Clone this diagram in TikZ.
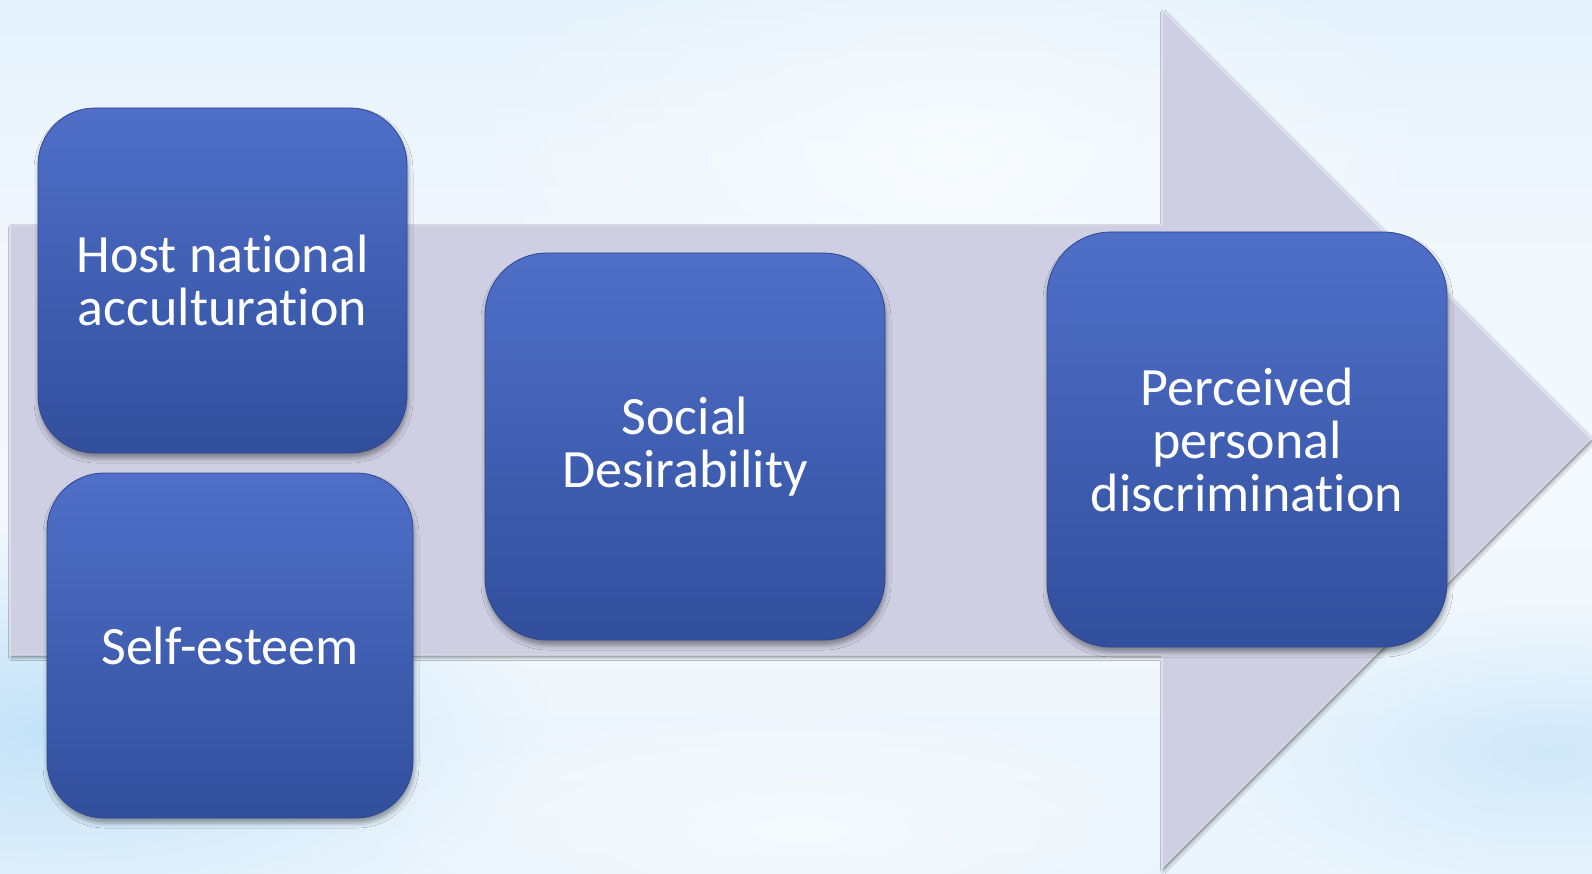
\documentclass[tikz,border=0pt]{standalone}
\usepackage{fontspec}
\setmainfont{Carlito}[Ligatures={NoCommon,NoRare,NoContextual}]
\usetikzlibrary{shadows.blur,fadings}

\definecolor{bgA}{HTML}{D9EDFB}
\definecolor{bgB}{HTML}{E6F3FC}
\definecolor{bgC}{HTML}{F4F9FE}
\definecolor{bgD}{HTML}{EEF6FD}
\definecolor{bgE}{HTML}{DDEEFA}
\definecolor{bgF}{HTML}{F0F7FD}
\definecolor{bgSide}{HTML}{BFE0F7}
\definecolor{bgGlow}{HTML}{FAFDFF}
\definecolor{arrowfill}{HTML}{CFCFE3}
\definecolor{arrowedge}{HTML}{E4E4F0}
\definecolor{boxtop}{HTML}{4F6FC8}
\definecolor{boxbot}{HTML}{324F9D}
\definecolor{boxedge}{HTML}{2E4890}

% soft sky background, listed from the top edge downwards
\pgfdeclareverticalshading{skyshade}{100bp}{
  color(0bp)=(bgA); color(17bp)=(bgB); color(46bp)=(bgC);
  color(66bp)=(bgD); color(80bp)=(bgE); color(100bp)=(bgF)}

\tikzfading[name=softblob, inner color=transparent!0,
  outer color=transparent!100]

\tikzset{
  bigarrow/.style={fill=arrowfill, draw=arrowedge, line width=1pt,
    blur shadow={shadow xshift=1.5pt, shadow yshift=-2.5pt,
      shadow blur radius=3pt, shadow opacity=45}},
  stepbox/.style={draw=boxedge, line width=0.8pt, top color=boxtop,
    bottom color=boxbot, inner sep=0pt, outer sep=0pt, text=white,
    align=center, font=\fontsize{54}{53}\selectfont,
    blur shadow={shadow xshift=1pt, shadow yshift=-5pt,
      shadow blur radius=5pt, shadow opacity=40}}
}

\begin{document}
\begin{tikzpicture}[x=1pt,y=-1pt]
\useasboundingbox (0,0) rectangle (1592,874);

% background
\fill[shading=skyshade] (0,0) rectangle (1592,874);
\fill[bgSide, path fading=softblob, fill opacity=0.9] (-450,520) rectangle (550,940);
\fill[bgSide, path fading=softblob, fill opacity=0.6] (1200,600) rectangle (1900,900);
\fill[bgGlow, path fading=softblob, fill opacity=0.8] (450,-120) rectangle (1450,420);
\fill[bgGlow, path fading=softblob, fill opacity=0.7] (350,700) rectangle (1250,960);

% broad process arrow behind the steps
\draw[bigarrow] (10,225) -- (1162,225) -- (1162,10) -- (1591,439)
  -- (1162,868) -- (1162,655) -- (10,655) -- cycle;

% steps
\node[stepbox, minimum width=369pt, minimum height=345pt,
  rounded corners=57pt] (host) at (222.5,280.5) {Host national\\acculturation};
\node[stepbox, minimum width=366pt, minimum height=345pt,
  rounded corners=57pt] (self) at (230,645.5) {Self-esteem};
\node[stepbox, minimum width=400pt, minimum height=387pt,
  rounded corners=62pt] (social) at (685,446.5) {Social\\Desirability};
\node[stepbox, minimum width=400pt, minimum height=415pt,
  rounded corners=64pt] (perc) at (1247,439.5) {Perceived\\personal\\discrimination};
\end{tikzpicture}
\end{document}
